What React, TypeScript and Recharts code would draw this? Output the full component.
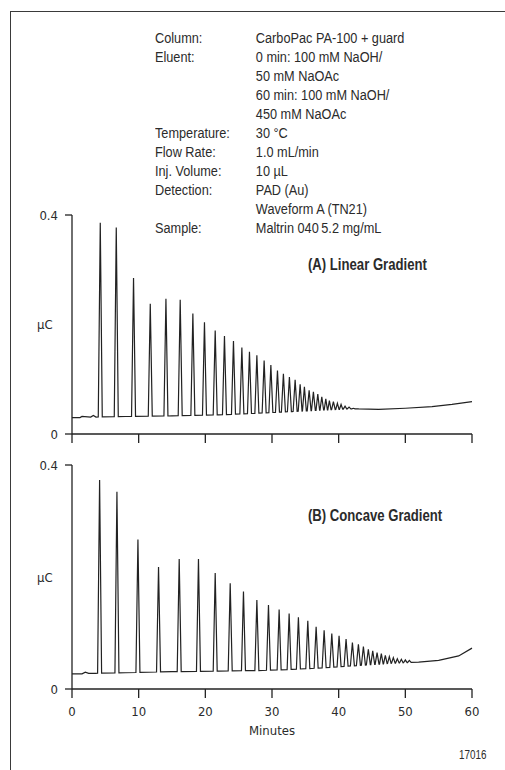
import React from 'react';
import { LineChart, Line, XAxis, YAxis, Label } from 'recharts';

const FONT = "'DejaVu Sans Condensed', 'Liberation Sans', sans-serif";
const TEXT_FONT = "'Liberation Sans', Arial, sans-serif";
const INK = '#2b2b2b';

const minuteTicks = [0, 10, 20, 30, 40, 50, 60];
const chargeTicks = [0, 0.4];

// (A) linear gradient: peak apex retention time (min) and height (µC)
const peakTimesA = [4.24, 6.64, 9.23, 11.74, 14.09, 16.23, 18.13, 19.87, 21.48, 22.87, 24.22, 25.48, 26.62, 27.73, 28.82, 29.83, 30.82, 31.71, 32.61, 33.47, 34.22, 34.86, 35.57, 36.21, 36.87, 37.47, 38.07, 38.61, 39.21, 39.81, 40.36, 40.96, 41.56, 42.21, 42.76];
const peakHeightsA = [0.386, 0.377, 0.285, 0.238, 0.247, 0.245, 0.220, 0.204, 0.189, 0.179, 0.170, 0.158, 0.150, 0.144, 0.134, 0.126, 0.116, 0.110, 0.104, 0.099, 0.091, 0.086, 0.080, 0.077, 0.073, 0.068, 0.064, 0.061, 0.059, 0.056, 0.054, 0.051, 0.049, 0.047, 0.046];
const baseTimesA = [0, 1.2, 1.5, 2.8, 3.2, 3.6, 8, 15, 22, 28, 33, 38, 42, 46, 50, 54, 57, 60];
const baseValuesA = [0.030, 0.030, 0.032, 0.031, 0.034, 0.031, 0.032, 0.033, 0.035, 0.038, 0.041, 0.044, 0.046, 0.045, 0.047, 0.050, 0.054, 0.059];

// (B) concave gradient
const peakTimesB = [4.14, 6.74, 9.89, 12.98, 16.08, 18.97, 21.48, 23.73, 25.72, 27.73, 29.47, 31.07, 32.57, 33.96, 35.37, 36.62, 37.82, 38.97, 40.06, 41.11, 42.06, 42.96, 43.71, 44.45, 45.11, 45.76, 46.4, 47.0, 47.6, 48.2, 48.8, 49.4, 50.0, 50.6];
const peakHeightsB = [0.373, 0.352, 0.267, 0.218, 0.232, 0.232, 0.207, 0.189, 0.174, 0.159, 0.150, 0.142, 0.135, 0.128, 0.122, 0.111, 0.105, 0.099, 0.095, 0.089, 0.083, 0.080, 0.076, 0.071, 0.068, 0.065, 0.063, 0.060, 0.058, 0.056, 0.054, 0.053, 0.052, 0.051];
const baseTimesB = [0, 1.5, 2.0, 2.5, 3.5, 8, 15, 22, 28, 33, 38, 43, 48, 52, 55, 58, 60];
const baseValuesB = [0.027, 0.027, 0.030, 0.028, 0.028, 0.029, 0.031, 0.032, 0.033, 0.035, 0.038, 0.042, 0.046, 0.048, 0.051, 0.059, 0.073];

const conditions = [
  ['Column:', 'CarboPac PA-100 + guard'],
  ['Eluent:', '0 min: 100 mM NaOH/'],
  ['', '50 mM NaOAc'],
  ['', '60 min: 100 mM NaOH/'],
  ['', '450 mM NaOAc'],
  ['Temperature:', '30 °C'],
  ['Flow Rate:', '1.0 mL/min'],
  ['Inj. Volume:', '10 µL'],
  ['Detection:', 'PAD (Au)'],
  ['', 'Waveform A (TN21)'],
  ['Sample:', 'Maltrin 040\u20095.2 mg/mL'],
];

function baseAt(t: number, ts: number[], vs: number[]) {
  for (let i = 1; i < ts.length; i++) {
    if (t <= ts[i]) {
      const f = (t - ts[i - 1]) / (ts[i] - ts[i - 1]);
      return vs[i - 1] + f * (vs[i] - vs[i - 1]);
    }
  }
  return vs[vs.length - 1];
}

// each peak drawn as a narrow spike rising from the baseline
function buildTrace(pt: number[], ph: number[], bt: number[], bv: number[]) {
  const halfW = pt.map((t, i) => {
    const prev = i > 0 ? t - pt[i - 1] : 1;
    const next = i < pt.length - 1 ? pt[i + 1] - t : 1;
    return Math.min(0.3, 0.45 * Math.min(prev, next));
  });
  const pts: { min: number; y: number }[] = [];
  pt.forEach((t, i) => {
    const w = halfW[i];
    pts.push({ min: t - w, y: baseAt(t - w, bt, bv) });
    pts.push({ min: t, y: ph[i] });
    pts.push({ min: t + w, y: baseAt(t + w, bt, bv) });
  });
  bt.forEach((t, i) => {
    const inside = pt.some((p, j) => Math.abs(t - p) < halfW[j]);
    if (!inside) pts.push({ min: t, y: bv[i] });
  });
  return pts.sort((a, b) => a.min - b.min);
}

const traceA = buildTrace(peakTimesA, peakHeightsA, baseTimesA, baseValuesA);
const traceB = buildTrace(peakTimesB, peakHeightsB, baseTimesB, baseValuesB);

const tickStyle = { fill: INK, fontSize: 13, fontFamily: FONT };

const Chromatogram = ({ data, showLabels }: { data: any[]; showLabels: boolean }) => (
  <LineChart
    width={505}
    height={showLabels ? 291 : 260}
    data={data}
    margin={{ top: 15, right: 33, bottom: 0, left: 0 }}
  >
    <XAxis
      dataKey="min"
      type="number"
      domain={[0, 60]}
      ticks={minuteTicks}
      interval={0}
      height={showLabels ? 52 : 26}
      tickSize={9}
      tickMargin={9}
      tick={tickStyle}
      tickFormatter={(v: number) => (showLabels ? String(v) : '')}
      stroke="#222"
      strokeWidth={1.3}
    >
      {showLabels && (
        <Label value="Minutes" position="insideBottom" offset={6} fill={INK} fontSize={13} fontFamily={FONT} />
      )}
    </XAxis>
    <YAxis
      type="number"
      domain={[0, 0.4]}
      ticks={chargeTicks}
      width={72}
      tickSize={7}
      tickMargin={7}
      tick={tickStyle}
      stroke="#222"
      strokeWidth={1.3}
    >
      <Label value="µC" position="insideLeft" offset={37} fill={INK} fontSize={13} fontFamily={FONT} />
    </YAxis>
    <Line
      type="linear"
      dataKey="y"
      stroke="#222"
      strokeWidth={1.2}
      dot={false}
      isAnimationActive={false}
    />
  </LineChart>
);

const narrow: React.CSSProperties = {
  position: 'absolute',
  transformOrigin: 'left top',
  transform: 'scaleX(0.82)',
  fontFamily: TEXT_FONT,
  whiteSpace: 'nowrap',
};

const App: React.FC = () => {
  return (
    <div style={{ position: 'absolute', left: 0, top: 0, width: 505, height: 770, overflow: 'hidden', background: '#fff', fontFamily: FONT, color: INK }}>
      <div style={{ position: 'absolute', left: 10, top: 11, width: 560, height: 800, border: '1.5px solid #3a3a3a' }} />

      <div style={{ ...narrow, left: 155, top: 28, fontSize: 15.5, lineHeight: '19.03px' }}>
        {conditions.map(([k, v], i) => (
          <div key={i} style={{ display: 'flex' }}>
            <span style={{ width: 123 }}>{k}</span>
            <span>{v}</span>
          </div>
        ))}
      </div>

      <div style={{ position: 'absolute', left: 0, top: 200 }}>
        <Chromatogram data={traceA} showLabels={false} />
      </div>
      <div style={{ position: 'absolute', left: 0, top: 450 }}>
        <Chromatogram data={traceB} showLabels={true} />
      </div>

      <div style={{ ...narrow, left: 308, top: 256, fontWeight: 'bold', fontSize: 16, lineHeight: '18px' }}>
        (A) Linear Gradient
      </div>
      <div style={{ ...narrow, left: 308, top: 507, fontWeight: 'bold', fontSize: 16, lineHeight: '18px' }}>
        (B) Concave Gradient
      </div>
      <div style={{ ...narrow, left: 459, top: 748, fontSize: 12 }}>17016</div>
    </div>
  );
};

export default App;
